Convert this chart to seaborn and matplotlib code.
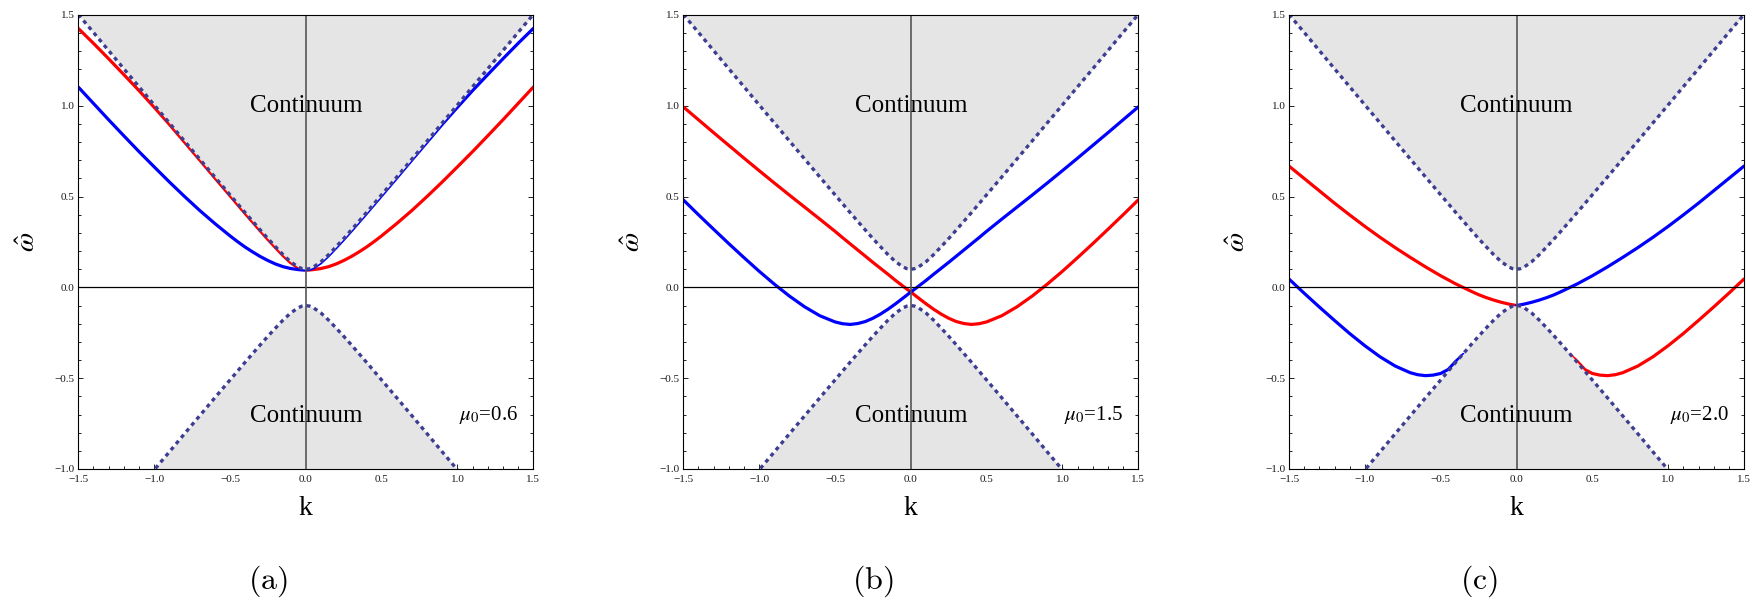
import matplotlib
matplotlib.use("Agg")
import matplotlib.pyplot as plt
import seaborn as sns
from matplotlib.ticker import MultipleLocator, FuncFormatter

# ---- data -------------------------------------------------------------
K = [-1.5, -1.4, -1.3, -1.2, -1.1, -1.0, -0.9, -0.8, -0.7, -0.6, -0.5, -0.45,
     -0.4, -0.35, -0.3, -0.25, -0.2, -0.15, -0.1, -0.05, -0.025, 0.0, 0.025,
     0.05, 0.1, 0.15, 0.2, 0.25, 0.3, 0.35, 0.4, 0.45, 0.5, 0.6, 0.7, 0.8,
     0.9, 1.0, 1.1, 1.2, 1.3, 1.4, 1.5]

# edges of the continuum (upper and lower band)
EDGE_UP = [1.503, 1.404, 1.304, 1.204, 1.105, 1.005, 0.906, 0.806, 0.707,
           0.608, 0.510, 0.461, 0.412, 0.364, 0.316, 0.269, 0.224, 0.180,
           0.141, 0.112, 0.103, 0.100, 0.103, 0.112, 0.141, 0.180, 0.224,
           0.269, 0.316, 0.364, 0.412, 0.461, 0.510, 0.608, 0.707, 0.806,
           0.906, 1.005, 1.105, 1.204, 1.304, 1.404, 1.503]
EDGE_DN = [-1.503, -1.404, -1.304, -1.204, -1.105, -1.005, -0.906, -0.806,
           -0.707, -0.608, -0.510, -0.461, -0.412, -0.364, -0.316, -0.269,
           -0.224, -0.180, -0.141, -0.112, -0.103, -0.100, -0.103, -0.112,
           -0.141, -0.180, -0.224, -0.269, -0.316, -0.364, -0.412, -0.461,
           -0.510, -0.608, -0.707, -0.806, -0.906, -1.005, -1.105, -1.204,
           -1.304, -1.404, -1.503]

# mu0 = 0.6
RED_A = [1.426, 1.344, 1.259, 1.172, 1.084, 0.992, 0.898, 0.800, 0.702,
         0.603, 0.505, 0.456, 0.407, 0.359, 0.311, 0.264, 0.219, 0.175,
         0.136, 0.107, 0.099, 0.096, 0.096, 0.098, 0.104, 0.114, 0.129,
         0.148, 0.170, 0.195, 0.222, 0.252, 0.284, 0.352, 0.424, 0.501,
         0.581, 0.664, 0.748, 0.835, 0.923, 1.013, 1.103]
BLUE_A = [1.103, 1.013, 0.923, 0.835, 0.748, 0.664, 0.581, 0.501, 0.424,
          0.352, 0.284, 0.252, 0.222, 0.195, 0.170, 0.148, 0.129, 0.114,
          0.104, 0.098, 0.096, 0.096, 0.099, 0.107, 0.136, 0.175, 0.219,
          0.264, 0.311, 0.359, 0.407, 0.456, 0.505, 0.603, 0.702, 0.800,
          0.898, 0.992, 1.084, 1.172, 1.259, 1.344, 1.426]

# mu0 = 1.5
RED_B = [0.994, 0.923, 0.852, 0.782, 0.712, 0.643, 0.575, 0.508, 0.442,
         0.376, 0.309, 0.274, 0.240, 0.206, 0.172, 0.138, 0.105, 0.072,
         0.038, 0.006, -0.010, -0.025, -0.042, -0.058, -0.090, -0.120,
         -0.147, -0.170, -0.188, -0.199, -0.204, -0.200, -0.190, -0.156,
         -0.107, -0.048, 0.018, 0.089, 0.164, 0.241, 0.320, 0.400, 0.482]
BLUE_B = [0.482, 0.400, 0.320, 0.241, 0.164, 0.089, 0.018, -0.048, -0.107,
          -0.156, -0.190, -0.200, -0.204, -0.199, -0.188, -0.170, -0.147,
          -0.120, -0.090, -0.058, -0.042, -0.025, -0.010, 0.006, 0.038,
          0.072, 0.105, 0.138, 0.172, 0.206, 0.240, 0.274, 0.309, 0.376,
          0.442, 0.508, 0.575, 0.643, 0.712, 0.782, 0.852, 0.923, 0.994]

# mu0 = 2.0 (branches split where they enter the lower continuum)
K_RED_C1 = [-1.5, -1.4, -1.3, -1.2, -1.1, -1.0, -0.9, -0.8, -0.7, -0.6, -0.5,
            -0.4, -0.3, -0.25, -0.2, -0.15, -0.1, -0.05, -0.025, 0.0]
RED_C1 = [0.668, 0.600, 0.532, 0.464, 0.399, 0.336, 0.276, 0.219, 0.165,
          0.113, 0.064, 0.019, -0.021, -0.040, -0.056, -0.070, -0.082,
          -0.092, -0.096, -0.100]
K_RED_C2 = [0.35, 0.4, 0.45, 0.5, 0.55, 0.6, 0.65, 0.7, 0.8, 0.9, 1.0, 1.1,
            1.2, 1.3, 1.4, 1.5]
RED_C2 = [-0.369, -0.407, -0.452, -0.474, -0.483, -0.486, -0.481, -0.470,
          -0.433, -0.382, -0.321, -0.254, -0.182, -0.108, -0.032, 0.046]
K_BLUE_C1 = [-1.5, -1.4, -1.3, -1.2, -1.1, -1.0, -0.9, -0.8, -0.7, -0.65,
             -0.6, -0.55, -0.5, -0.45, -0.4, -0.35]
BLUE_C1 = [0.046, -0.032, -0.108, -0.182, -0.254, -0.321, -0.382, -0.433,
           -0.470, -0.481, -0.486, -0.483, -0.474, -0.452, -0.407, -0.369]
K_BLUE_C2 = [0.0, 0.025, 0.05, 0.1, 0.15, 0.2, 0.25, 0.3, 0.4, 0.5, 0.6, 0.7,
             0.8, 0.9, 1.0, 1.1, 1.2, 1.3, 1.4, 1.5]
BLUE_C2 = [-0.100, -0.096, -0.092, -0.082, -0.070, -0.056, -0.040, -0.021,
           0.019, 0.064, 0.113, 0.165, 0.219, 0.276, 0.336, 0.399, 0.464,
           0.532, 0.600, 0.668]

MU_VALUES = ["0.6", "1.5", "2.0"]
CAPTIONS = ["(a)", "(b)", "(c)"]

# ---- style ------------------------------------------------------------
sns.set_style("ticks")
plt.rcParams.update({
    "font.family": ["Liberation Serif", "DejaVu Serif"],
    "mathtext.fontset": "stix",
    "axes.edgecolor": "black",
    "axes.linewidth": 0.8,
    "xtick.color": "black",
    "ytick.color": "black",
    "xtick.labelcolor": "#1a1a1a",
    "ytick.labelcolor": "#1a1a1a",
    "text.color": "black",
    "axes.labelcolor": "black",
})

RED = "#ff0000"
BLUE = "#0000ff"
EDGE_COLOR = "#3d3d92"
FILL = "#e5e5e5"

W, H = 1757, 600
fig = plt.figure(figsize=(W / 100, H / 100), dpi=100)

lefts = [78.3, 683.3, 1289.0]
ax_w, ax_h = 455.0, 454.0
ax_bottom = 469.0

curves = [
    [(K, RED_A, RED), (K, BLUE_A, BLUE)],
    [(K, RED_B, RED), (K, BLUE_B, BLUE)],
    [(K_RED_C1, RED_C1, RED), (K_RED_C2, RED_C2, RED),
     (K_BLUE_C1, BLUE_C1, BLUE), (K_BLUE_C2, BLUE_C2, BLUE)],
]


def minus_fmt(v, _):
    s = f"{v:.1f}"
    return s.replace("-", "\u2212")


for i, left in enumerate(lefts):
    ax = fig.add_axes([left / W, (H - ax_bottom) / H, ax_w / W, ax_h / H])
    ax.set_xlim(-1.5, 1.5)
    ax.set_ylim(-1.0, 1.5)

    # bound-state branches (under the continuum shading)
    for kx, wy, col in curves[i]:
        sns.lineplot(x=kx, y=wy, ax=ax, color=col, linewidth=2.3,
                     sort=False, estimator=None, legend=False, zorder=2)

    # continuum shading
    ax.fill_between(K, EDGE_UP, 1.6, color=FILL, linewidth=0, zorder=3)
    ax.fill_between(K, -1.6, EDGE_DN, color=FILL, linewidth=0, zorder=3)

    # coordinate axes through the origin
    ax.axhline(0, color="black", linewidth=0.9, zorder=3.5)
    ax.axvline(0, color="#555555", linewidth=1.2, zorder=3.5)

    # dotted continuum edges
    for edge in (EDGE_UP, EDGE_DN):
        sns.lineplot(x=K, y=edge, ax=ax, color=EDGE_COLOR, linewidth=2.4,
                     linestyle=(0, (1.2, 1.2)), dash_capstyle="butt",
                     sort=False, estimator=None, legend=False, zorder=4)

    ax.text(0, 0.967, "Continuum", ha="center", va="baseline",
            fontsize=18, zorder=6)
    ax.text(0, -0.74, "Continuum", ha="center", va="baseline",
            fontsize=18, zorder=6)
    ax.text(1.40, -0.731, r"$\mu_0$=" + MU_VALUES[i], ha="right",
            va="baseline", fontsize=15, zorder=6)

    ax.xaxis.set_major_locator(MultipleLocator(0.5))
    ax.xaxis.set_minor_locator(MultipleLocator(0.1))
    ax.yaxis.set_major_locator(MultipleLocator(0.5))
    ax.yaxis.set_minor_locator(MultipleLocator(0.1))
    ax.xaxis.set_major_formatter(FuncFormatter(minus_fmt))
    ax.yaxis.set_major_formatter(FuncFormatter(minus_fmt))
    ax.tick_params(which="both", direction="in", top=True, right=True,
                   width=0.6, labelsize=8)
    ax.tick_params(axis="x", which="both", pad=4.5)
    ax.tick_params(axis="y", which="both", pad=2.5)
    ax.tick_params(which="major", length=3.8)
    ax.tick_params(which="minor", length=2.0)
    for sp in ax.spines.values():
        sp.set_zorder(7)

    ax.set_xlabel("k", fontsize=20, va="center")
    ax.xaxis.set_label_coords(0.5, -0.088)
    ax.set_ylabel(r"$\hat{\omega}$", fontsize=20, va="center", ha="center")
    ax.yaxis.set_label_coords(-0.1105, 0.5)

    cx = left + ax_w / 2 - 38
    fig.text(cx / W, (H - 581) / H, r"$\mathrm{" + CAPTIONS[i] + "}$",
             ha="center", va="center", fontsize=23, math_fontfamily="cm")

fig.savefig("out.png", dpi=100)
